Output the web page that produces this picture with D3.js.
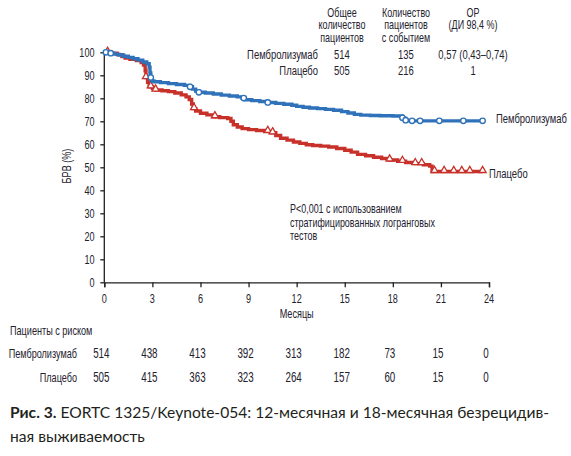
<!DOCTYPE html>
<html><head><meta charset="utf-8">
<script src="https://cdn.jsdelivr.net/npm/d3@7"></script>
<style>
body{margin:0;background:#fff;}
svg{display:block;}
.c{font-family:"Liberation Sans",Arial,sans-serif;fill:#24212e;}
.cap{font-family:"Lato","Open Sans",sans-serif;fill:#231f20;}
</style></head>
<body><svg id="chart" width="571" height="456"></svg>
<script>
// ---- data ----
const months = [0,3,6,9,12,15,18,21,24];
const yTicks = [0,10,20,30,40,50,60,70,80,90,100];
const groups = ["Пембролизумаб","Плацебо"];
const totalPatients = [514,505];
const events = [135,216];
const hazard = ["0,57 (0,43–0,74)","1"];
const atRiskPembro = [514,438,413,392,313,182,73,15,0];
const atRiskPlacebo = [505,415,363,323,264,157,60,15,0];

const pembroT = [0,0.3,0.6,0.9,1.2,1.5,1.8,2.1,2.4,2.65,2.8,2.85,2.9,2.95,3.1,3.5,4.0,4.5,5.0,5.35,5.5,5.7,5.9,6.3,6.8,7.3,7.8,8.3,8.6,8.8,9.2,9.7,10.2,10.7,11.2,11.7,12.0,12.4,12.8,13.3,13.8,14.3,14.8,15.2,15.6,16.0,16.6,17.2,18.0,18.6,18.75,18.9,23.6];
const pembroS = [100,99.6,99.2,98.8,98.3,97.8,97.2,96.6,95.8,95.0,93.5,91,89,87.5,87.2,86.8,86.4,86.0,85.6,85.0,84.0,83.2,82.6,82.3,81.9,81.4,81.0,80.6,80.1,79.4,79.0,78.6,78.2,77.8,77.4,77.0,76.5,76.1,75.8,75.5,75.2,74.8,74.2,73.6,73.0,72.7,72.5,72.4,72.3,71.5,70.5,70.2,70.2];
const placeboT = [0,0.4,0.8,1.1,1.3,1.6,2.0,2.3,2.45,2.55,2.6,2.7,2.8,3.0,3.2,3.6,4.0,4.4,4.8,5.1,5.3,5.45,5.55,5.7,6.0,6.4,6.8,7.2,7.7,7.9,8.05,8.3,8.6,9.0,9.5,10.0,10.4,10.7,11.0,11.4,11.8,12.2,12.6,13.0,13.5,14.0,14.5,15.0,15.4,15.8,16.3,16.8,17.3,17.8,18.3,18.8,19.4,19.9,20.3,20.45,23.6];
const placeboS = [100,99.6,99.0,98.2,97.5,97.0,96.4,95.5,94.5,92,89,87,85,84.2,83.6,83.3,82.9,82.3,81.5,80.6,79.5,77.5,75.5,74.5,73.5,72.8,72.0,71.6,71.2,70.0,68.5,67.5,66.8,66.4,66.0,65.6,65.0,63.8,62.6,61.8,61.0,60.4,59.8,59.5,59.2,58.8,58.2,57.4,56.6,55.6,55.0,54.4,53.8,53.2,52.6,52.1,51.6,51.1,50.5,48.2,48.2];
const pembroCensor = [0.1,0.4,2.9,5.35,5.9,8.7,10.2,18.6,18.8,19.2,19.7,20.9,22.4,23.6];
const placeboCensor = [0.2,2.6,2.9,3.2,5.6,6.9,10.2,10.5,17.8,18.6,19.4,19.8,20.6,21.2,21.8,22.3,22.8,23.6];

// ---- layout ----
const svg = d3.select("#chart");
const x = d3.scaleLinear().domain([0,24]).range([104.3,489]);
const y = d3.scaleLinear().domain([0,100]).range([282.3,52.3]);
const blue = "#2f72b9", red = "#c8312a";
const SX = 0.70;

// condensed text helper
function txt(px,py,s,size,anchor,rot){
  const g = svg.append("g").attr("transform",`translate(${px},${py})${rot?` rotate(${rot})`:""} scale(${SX},1)`);
  g.append("text").attr("class","c").attr("font-size",size).attr("text-anchor",anchor||"start").text(s);
  return g;
}

// axes
const gx = svg.append("g").attr("transform","translate(0,282.3)")
  .call(d3.axisBottom(x).tickValues(months).tickSize(5).tickFormat(""));
const gy = svg.append("g").attr("transform","translate(104.3,0)")
  .call(d3.axisLeft(y).tickValues(yTicks).tickSize(4).tickFormat(""));
[gx,gy].forEach(g=>{
  g.select(".domain").attr("stroke","#231f20").attr("stroke-width",1.3);
  g.selectAll(".tick line").attr("stroke","#231f20").attr("stroke-width",1.3);
});
gy.select(".domain").attr("d","M0,282.3V50");
months.forEach(m=>txt(x(m),302.5,m,13,"middle"));
yTicks.forEach(v=>txt(94.5,y(v)+4.5,v,13,"end"));

txt(71,166,"БРВ (%)",13,"middle",-90);
txt(x(12),318,"Месяцы",13,"middle");

// curves
function stepFn(T,S){return t=>{let v=S[0];for(let i=0;i<T.length;i++){if(T[i]<=t)v=S[i];}return v;};}
const line = d3.line().x(d=>x(d[0])).y(d=>y(d[1])).curve(d3.curveStepAfter);
function drawCurve(T,S,C,color,shape){
  const pts = T.map((t,i)=>[t,S[i]]);
  svg.append("path").datum(pts).attr("d",line).attr("fill","none")
    .attr("stroke",color).attr("stroke-width",3.4).attr("stroke-linejoin","miter");
  const f = stepFn(T,S);
  const g = svg.append("g");
  C.forEach(t=>{
    const cx=x(t), cy=y(f(t));
    if(shape==="circle"){
      g.append("circle").attr("cx",cx).attr("cy",cy).attr("r",2.7)
        .attr("fill","#fff").attr("stroke",color).attr("stroke-width",1.4);
    } else {
      g.append("path").attr("d",d3.symbol(d3.symbolTriangle,22)())
        .attr("transform",`translate(${cx},${cy-1})`)
        .attr("fill","#fff").attr("stroke",color).attr("stroke-width",1.3);
    }
  });
}
drawCurve(placeboT,placeboS,placeboCensor,red,"tri");
drawCurve(pembroT,pembroS,pembroCensor,blue,"circle");

txt(496,123,groups[0],13.5,"start");
txt(489,178,groups[1],13.5,"start");

// annotation
["P<0,001 с использованием","стратифицированных логранговых","тестов"].forEach((s,i)=>{
  txt(290,213+i*13.5,s,12.8,"start");
});

// header table
const colX = [342,406,473];
const heads = [["Общее","количество","пациентов"],["Количество","пациентов","с событием"],["ОР","(ДИ 98,4 %)"]];
heads.forEach((h,c)=>h.forEach((s,i)=>txt(colX[c],17+i*12.3,s,12.8,"middle")));
groups.forEach((gname,r)=>{
  const yy = 59 + r*16;
  txt(318,yy,gname,13.5,"end");
  [totalPatients[r],events[r],hazard[r]].forEach((v,c)=>txt(colX[c],yy,v,13.5,"middle"));
});

// at-risk table
txt(10,335,"Пациенты с риском",13,"start");
[[atRiskPembro,358],[atRiskPlacebo,382]].forEach(([arr,yy],r)=>{
  txt(77,yy,groups[r],13,"end");
  arr.forEach((v,i)=>txt(x(months[i])-3,yy,v,14,"middle"));
});

// caption
const cap = svg.append("text").attr("class","cap").attr("font-size",15.6).attr("x",10).attr("y",418);
cap.append("tspan").attr("font-weight","bold").text("Рис. 3.");
cap.append("tspan").text(" EORTC 1325/Keynote-054: 12-месячная и 18-месячная безрецидив-");
svg.append("text").attr("class","cap").attr("font-size",15.6).attr("x",10).attr("y",442).text("ная выживаемость");
</script></body></html>
